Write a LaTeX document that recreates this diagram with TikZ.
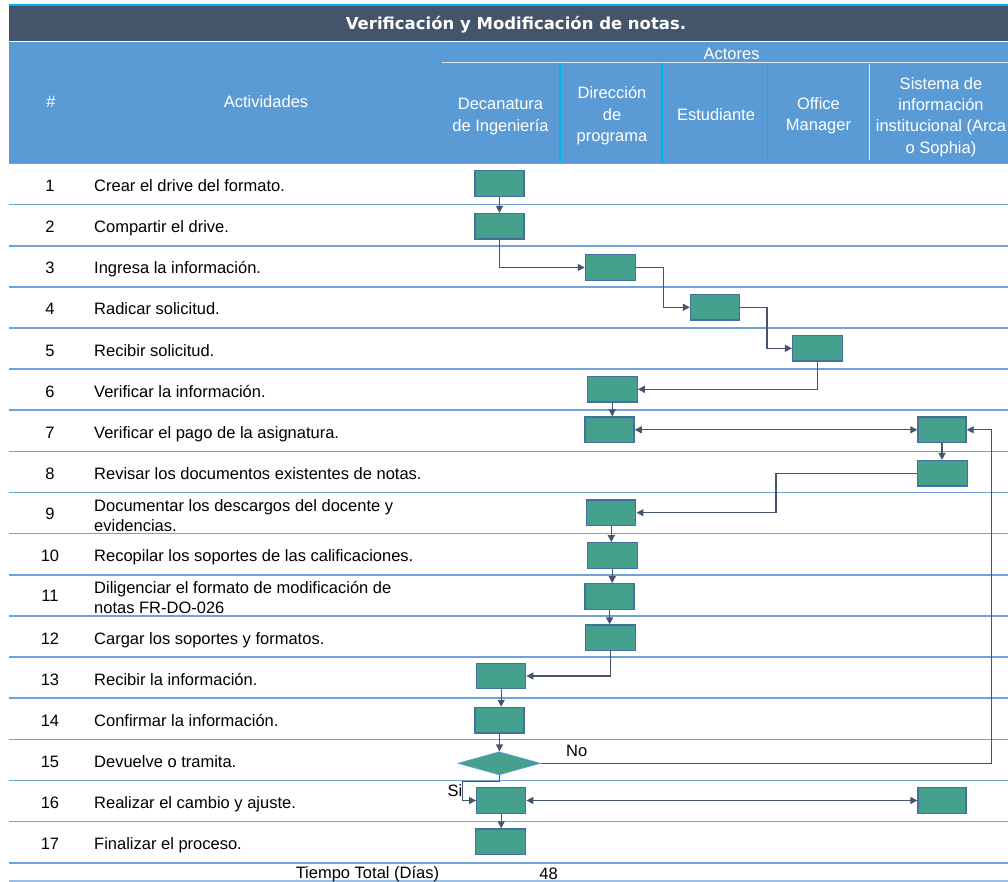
\documentclass[tikz,border=0pt]{standalone}
\usepackage{fontspec}
\setmainfont{Liberation Sans}
\newfontfamily\titlefont{DejaVu Sans}
\usetikzlibrary{arrows.meta,shapes.geometric}

\definecolor{hdrdark}{HTML}{44546A}
\definecolor{hdrblue}{HTML}{5B9BD5}
\definecolor{accent}{HTML}{00B0F0}
\definecolor{rowline}{HTML}{6FA3DA}
\definecolor{paleline}{HTML}{DDEBF7}
\definecolor{boxfill}{HTML}{45A08D}
\definecolor{boxedge}{HTML}{41719C}
\definecolor{wire}{HTML}{46556B}

\tikzset{
  act/.style={draw=boxedge, fill=boxfill, line width=1.3pt,
    minimum width=49pt, minimum height=25.5pt, inner sep=0pt},
  decide/.style={diamond, draw=hdrblue, fill=boxfill, line width=0.8pt,
    minimum width=82pt, minimum height=23pt, inner sep=0pt},
  conn/.style={draw=wire, line width=1.3pt,
    -{Triangle[length=7pt,width=7pt]}},
  both/.style={draw=wire, line width=1.3pt,
    {Triangle[length=7pt,width=7pt]}-{Triangle[length=7pt,width=7pt]}},
  txt/.style={font=\fontsize{16.5}{21.3}\selectfont, inner sep=0pt},
  hdr/.style={txt, text=white, align=center},
  rowsep/.style={draw=rowline, line width=1.6pt},
}

\begin{document}
\begin{tikzpicture}[x=1pt, y=-1pt]
\clip (0,0) rectangle (1008,882);
\fill[white] (0,0) rectangle (1008,882);

% title band
\fill[hdrdark] (9.3,6.5) rectangle (1008,41);
\draw[accent, line width=2pt] (9.3,5) -- (1008,5);
\node[anchor=base, text=white, inner sep=0pt,
  font=\titlefont\bfseries\fontsize{16.5}{20}\selectfont] (title) at (516,30)
  {Verificación y Modificación de notas.};

% column header band
\fill[hdrblue] (9.3,42.5) rectangle (1008,163.5);
\draw[paleline, line width=1.4pt] (441.5,62.3) -- (1008,62.3);
\foreach \xs in {560,662,767.5}
  \draw[accent, line width=1.6pt] (\xs,63) -- (\xs,164);
\draw[paleline, line width=0.8pt] (869.2,64) -- (869.2,160);

\node[hdr, anchor=base] (hnum) at (51,107.6) {\#};
\node[hdr, anchor=base] (hact) at (266,107.6) {Actividades};
\node[hdr, anchor=base] (hactores) at (731.6,59.3) {Actores};
\node[hdr, anchor=north] (hdec) at (500.5,98.4) {Decanatura\\de Ingeniería};
\node[hdr, anchor=north] (hdir) at (612,86.5) {Dirección\\de\\programa};
\node[hdr, anchor=base] (hest) at (716,121) {Estudiante};
\node[hdr, anchor=north] (hoff) at (818.5,97) {Office\\Manager};
\node[hdr, anchor=north] (hsis) at (941,77) {Sistema de\\información\\institucional (Arca\\o Sophia)};

% row separators
\foreach \k in {0,...,17}
  \draw[rowsep] (9.3,{163.5+41.13*\k}) -- (1008,{163.5+41.13*\k});
\draw[rowsep, draw=rowline!70] (9.3,880.8) -- (1008,880.8);

% activity numbers and descriptions
\foreach \i/\t in {
  1/{Crear el drive del formato.},
  2/{Compartir el drive.},
  3/{Ingresa la información.},
  4/{Radicar solicitud.},
  5/{Recibir solicitud.},
  6/{Verificar la información.},
  7/{Verificar el pago de la asignatura.},
  8/{Revisar los documentos existentes de notas.},
  10/{Recopilar los soportes de las calificaciones.},
  12/{Cargar los soportes y formatos.},
  13/{Recibir la información.},
  14/{Confirmar la información.},
  15/{Devuelve o tramita.},
  16/{Realizar el cambio y ajuste.},
  17/{Finalizar el proceso.}}{
  \pgfmathsetmacro\yb{163.5+41.13*(\i-0.5)+7.5}
  \node[txt, anchor=base] (n\i) at (50,\yb) {\i};
  \node[txt, anchor=base west] (a\i) at (94,\yb) {\t};
}
\node[txt, anchor=base] (n9) at (50,519.6) {9};
\node[txt, anchor=base west] (a9) at (94,511) {Documentar los descargos del docente y};
\node[txt, anchor=base west] (a9b) at (94,531) {evidencias.};
\node[txt, anchor=base] (n11) at (50,601.9) {11};
\node[txt, anchor=base west] (a11) at (94,593.3) {Diligenciar el formato de modificación de};
\node[txt, anchor=base west] (a11b) at (94,613.3) {notas FR-DO-026};

\node[txt, anchor=base east] (ttot) at (439.3,878.5) {Tiempo Total (Días)};
\node[txt, anchor=base] (tval) at (548.6,879) {48};

% process steps
\node[act] (b1) at (499.5,183.6) {};
\node[act] (b2) at (499.5,226.3) {};
\node[act, minimum width=50pt] (b3) at (610.4,267.5) {};
\node[act] (b4) at (715,307.3) {};
\node[act, minimum width=50pt] (b5) at (817.6,348.3) {};
\node[act, minimum width=50pt] (b6) at (612.2,389.3) {};
\node[act] (b7) at (609.6,429.8) {};
\node[act, minimum width=48pt] (s7) at (942,429.8) {};
\node[act, minimum width=50pt] (s8) at (942.7,473.3) {};
\node[act] (b9) at (611.3,512.7) {};
\node[act, minimum width=50pt] (b10) at (612.2,555.5) {};
\node[act] (b11) at (609.6,596.5) {};
\node[act, minimum width=50pt] (b12) at (610.4,637.8) {};
\node[act] (b13) at (501.2,676) {};
\node[act] (b14) at (499.5,720.2) {};
\node[decide] (dec) at (499.2,763.3) {};
\node[act] (b16) at (501.2,800.5) {};
\node[act, minimum width=48pt] (s16) at (942,800.5) {};
\node[act, minimum width=50.5pt] (b17) at (500.4,841.7) {};

% flow
\draw[conn] (b1.south) -- (b2.north);
\draw[conn] (b2.south) |- (b3.west);
\draw[conn] (b3.east) -- ++(27.5,0) |- (b4.west);
\draw[conn] (b4.east) -- ++(26.7,0) |- (b5.west);
\draw[conn] (b5.south) |- (b6.east);
\draw[conn] (b6.south) -- (b6.south |- b7.north);
\draw[both] (b7.east) -- (s7.west);
\draw[conn] (s7.south) -- (s7.south |- s8.north);
\draw[conn] (s8.west) -- ++(-141,0) |- (b9.east);
\draw[conn] (b9.south) -- (b9.south |- b10.north);
\draw[conn] (b10.south) -- (b10.south |- b11.north);
\draw[conn] (b11.south) -- (b11.south |- b12.north);
\draw[conn] (b12.south) |- (b13.east);
\draw[conn] (b13.south) -- (b13.south |- b14.north);
\draw[conn] (b14.south) -- (b14.south |- dec.north);
\draw[conn] (dec.east) -- ++(450.6,0) |- (s7.east);
\draw[conn] (dec.south) -- ++(0,6) -- ++(-36.7,0) |- (b16.west);
\draw[both] (b16.east) -- (s16.west);
\draw[conn] (b16.south) -- (b16.south |- b17.north);

\node[txt, anchor=base] (lblno) at (576.7,756.5) {No};
\node[txt, anchor=base] (lblsi) at (455,796.5) {Si};
\end{tikzpicture}
\end{document}
